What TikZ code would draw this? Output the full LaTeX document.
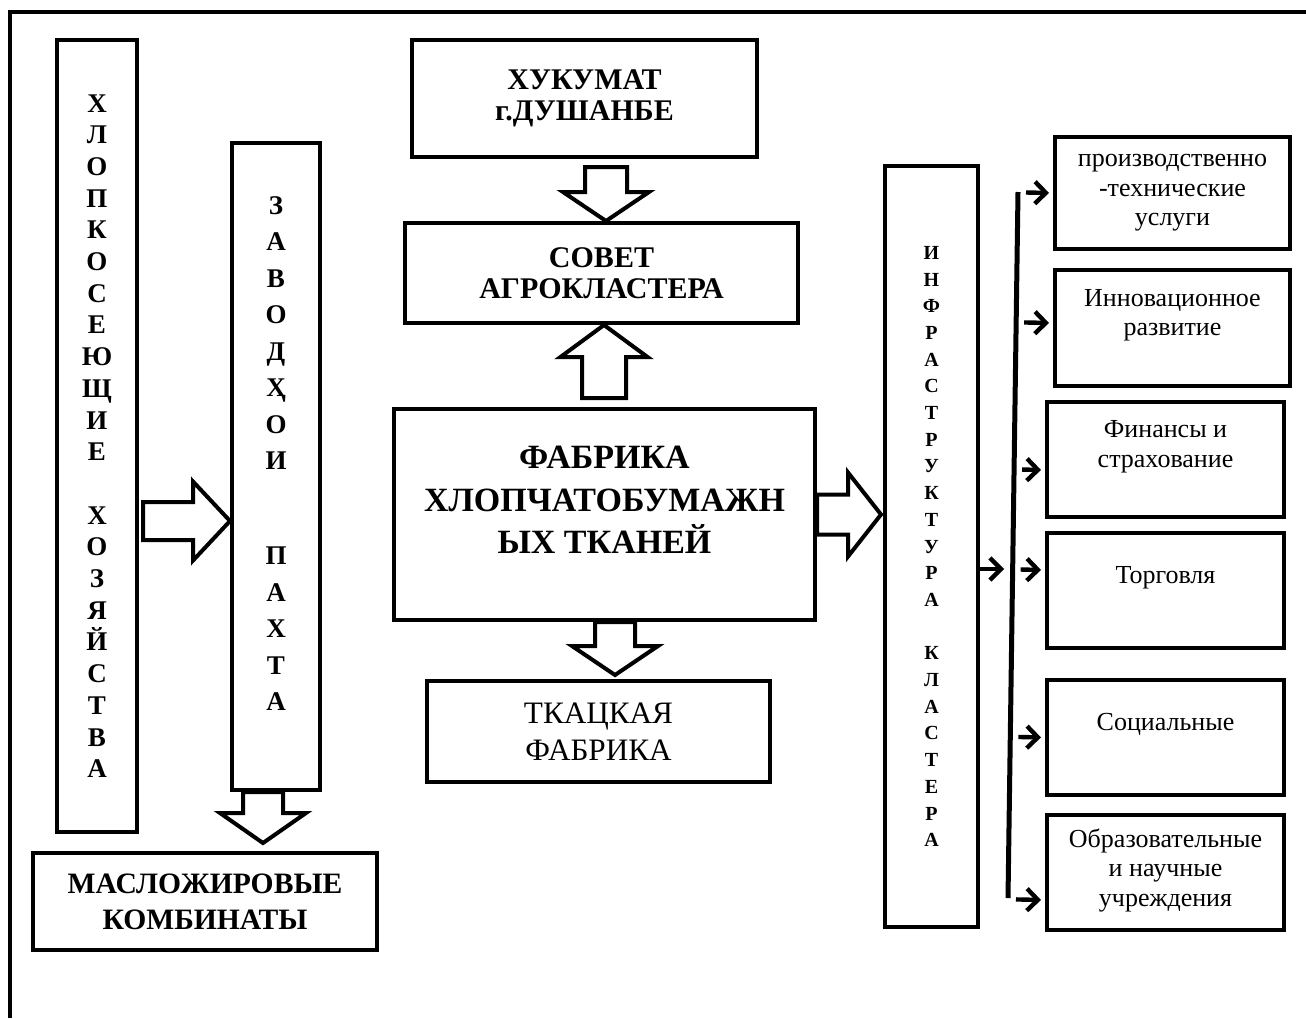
\documentclass[tikz,border=0pt]{standalone}
\usepackage{fontspec}
\setmainfont{Liberation Serif}
\usetikzlibrary{arrows.meta,calc}

\tikzset{
  box/.style={draw, line width=2pt, inner sep=0pt, align=center},
  vlet/.style={font=\fontsize{13.5}{15.85}\selectfont\bfseries, align=center, inner sep=0pt},
  stext/.style={font=\fontsize{13}{14.75}\selectfont, align=center, inner sep=0pt},
  sarrow/.style={line width=2.2pt, -{Straight Barb[length=5.5pt,width=11pt]}, shorten >=2pt},
  % hollow block arrow: shaft half width, head half width, head length
  fat/.style n args={3}{line width=2pt, to path={
    ($(\tikztostart)!#1!90:(\tikztotarget)$)
    -- ($($(\tikztotarget)!#3!(\tikztostart)$)!#1!90:(\tikztotarget)$)
    -- ($($(\tikztotarget)!#3!(\tikztostart)$)!#2!90:(\tikztotarget)$)
    -- (\tikztotarget)
    -- ($($(\tikztotarget)!#3!(\tikztostart)$)!#2!-90:(\tikztotarget)$)
    -- ($($(\tikztotarget)!#3!(\tikztostart)$)!#1!-90:(\tikztotarget)$)
    -- ($(\tikztostart)!#1!-90:(\tikztotarget)$)
    -- cycle}}
}

\begin{document}
\begin{tikzpicture}[x=0.5pt,y=-0.5pt]
  \useasboundingbox (0,0) rectangle (1306,1018);
  % ===== frame =====
  \draw[line width=2.2pt] (10,1018) -- (10,12) -- (1306,12);

  % ===== LEFT: farms, ginneries, oil plants =====
  \node[box, minimum width=40pt, minimum height=396pt, vlet] (farms) at (97,436)
    {Х\\Л\\О\\П\\К\\О\\С\\Е\\Ю\\Щ\\И\\Е\\[15.85pt]Х\\О\\З\\Я\\Й\\С\\Т\\В\\А};
  \node[box, minimum width=44pt, minimum height=323.5pt] (zavod) at (276,466.5) {};
  \node[vlet, font=\fontsize{13.5}{18.25}\selectfont\bfseries] at ([yshift=6.5pt]zavod.center)
    {З\\А\\В\\О\\Д\\Ҳ\\О\\И\\[29.25pt]П\\А\\Х\\Т\\А};
  \node[box, minimum width=172pt, minimum height=48.5pt, font=\fontsize{14.8}{18}\selectfont\bfseries] (maslo) at (205,901.5)
    {МАСЛОЖИРОВЫЕ\\КОМБИНАТЫ};

  % ===== CENTER =====
  \node[box, minimum width=172.5pt, minimum height=58.5pt, font=\fontsize{15}{15.5}\selectfont\bfseries] (huk) at (584.5,98.5)
    {ХУКУМАТ\\г.ДУШАНБЕ};
  \node[box, minimum width=196.5pt, minimum height=50pt, font=\fontsize{15}{15.5}\selectfont\bfseries] (sovet) at (601.5,273)
    {СОВЕТ\\АГРОКЛАСТЕРА};
  \node[box, minimum width=210.5pt, minimum height=105.5pt] (fab) at (604.5,514.5) {};
  \node[align=center, inner sep=0pt, font=\fontsize{17}{21.25}\selectfont\bfseries] at ([yshift=7.25pt]fab.center)
    {ФАБРИКА\\ХЛОПЧАТОБУМАЖН\\ЫХ ТКАНЕЙ};
  \node[box, minimum width=171.5pt, minimum height=50.5pt, font=\fontsize{15.6}{18.5}\selectfont] (tkan) at (598.5,731.5)
    {ТКАЦКАЯ\\ФАБРИКА};

  % ===== RIGHT: infrastructure =====
  \node[box, minimum width=46.5pt, minimum height=380.5pt, font=\fontsize{10}{13.35}\selectfont\bfseries] (infra) at (931.5,546.5)
    {И\\Н\\Ф\\Р\\А\\С\\Т\\Р\\У\\К\\Т\\У\\Р\\А\\[13.35pt]К\\Л\\А\\С\\Т\\Е\\Р\\А};
  \node[box, minimum width=117.5pt, minimum height=56pt] (s1) at (1172.5,193) {};
  \node[box, minimum width=117.5pt, minimum height=58pt] (s2) at (1172.5,328) {};
  \node[box, minimum width=118.5pt, minimum height=57.5pt] (s3) at (1165.5,459.5) {};
  \node[box, minimum width=118.5pt, minimum height=57.5pt] (s4) at (1165.5,590.5) {};
  \node[box, minimum width=118.5pt, minimum height=57.5pt] (s5) at (1165.5,737.5) {};
  \node[box, minimum width=118.5pt, minimum height=57.5pt] (s6) at (1165.5,872.5) {};
  \node[stext] at (s1.center) {производственно\\-технические\\услуги};
  \node[stext] at ([yshift=6.5pt]s2.center) {Инновационное\\развитие};
  \node[stext] at ([yshift=6.5pt]s3.center) {Финансы и\\страхование};
  \node[stext] at ([yshift=6.25pt]s4.center) {Торговля};
  \node[stext] at ([yshift=6.75pt]s5.center) {Социальные};
  \node[stext] at ([yshift=1.25pt]s6.center) {Образовательные\\и научные\\учреждения};

  % ===== block arrows =====
  \coordinate (a1) at (143,521);
  \coordinate (a2) at (263,0);
  \coordinate (a3) at (606,0);
  \coordinate (a4) at (604,0);
  \coordinate (a5) at (615,0);
  \draw[fat={9.5pt}{19.75pt}{18.5pt}] (a1) to (a1 -| zavod.west);
  \draw[fat={10pt}{21.5pt}{15pt}] (a2 |- zavod.south) to ($(a2 |- maslo.north)+(0,-8)$);
  \draw[fat={10.5pt}{21.5pt}{14.5pt}] ($(a3 |- huk.south)+(0,8)$) to (a3 |- sovet.north);
  \draw[fat={11pt}{21.75pt}{16pt}] ($(a4 |- fab.north)+(0,-9)$) to (a4 |- sovet.south);
  \draw[fat={10pt}{21.5pt}{14.5pt}] (a5 |- fab.south) to ($(a5 |- tkan.north)+(0,-4)$);
  \draw[fat={10pt}{21pt}{16.5pt}] (fab.east) to ($(fab.east -| infra.west)+(-2,0)$);

  % ===== spine and small arrows =====
  \coordinate (spT) at (1018,192);
  \coordinate (spB) at (1008,898);
  \coordinate (hub) at (1004,569);
  \draw[line width=2.5pt] (spT) -- (spB);
  \draw[sarrow, shorten >=0pt] (infra.east |- hub) -- (hub);
  \draw[sarrow] ($($(spT)!(s1.west)!(spB)$)+(8,0)$) -- (s1.west);
  \draw[sarrow] ($($(spT)!([yshift=2.5pt]s2.west)!(spB)$)+(8,0)$) -- ([yshift=2.5pt]s2.west);
  \draw[sarrow] ($($(spT)!([yshift=-5.25pt]s3.west)!(spB)$)+(8,0)$) -- ([yshift=-5.25pt]s3.west);
  \draw[sarrow] ($($(spT)!([yshift=10.25pt]s4.west)!(spB)$)+(8,0)$) -- ([yshift=10.25pt]s4.west);
  \draw[sarrow] ($($(spT)!(s5.west)!(spB)$)+(8,0)$) -- (s5.west);
  \draw[sarrow] ($($(spT)!([yshift=-13.75pt]s6.west)!(spB)$)+(8,0)$) -- ([yshift=-13.75pt]s6.west);
\end{tikzpicture}
\end{document}
